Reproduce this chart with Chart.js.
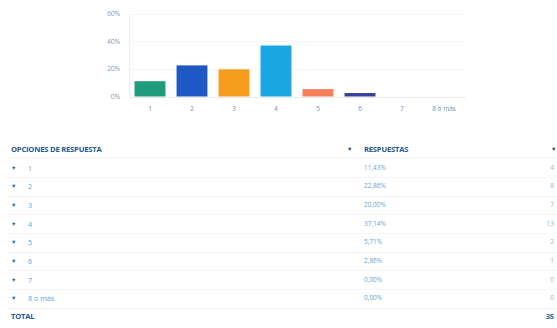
<!DOCTYPE html>
<html>
<head>
<meta charset="utf-8">
<script src="https://cdn.jsdelivr.net/npm/chart.js@4/dist/chart.umd.min.js"></script>
<style>
  html, body { margin: 0; padding: 0; background: #fff; }
  body { width: 557px; height: 328px; position: relative; overflow: hidden; font-family: "Open Sans", sans-serif; }
  #chartBox { position: absolute; left: 0; top: 0; width: 557px; height: 124px; }
  .t { position: absolute; font-size: 6.5px; line-height: 10px; white-space: nowrap; }
  .hdr { font-weight: 700; color: #225a8c; font-size: 7.6px; letter-spacing: -0.2px; }
  .lbl { color: #5aa6d6; font-size: 7.2px; }
  .pct { color: #6b9fcf; }
  .cnt { color: #8fb3d0; text-align: right; width: 30px; }
  .arrow { color: #2a4766; font-size: 5.5px; }
  .bul { color: #2f5f8c; font-size: 5.5px; }
  .sep { position: absolute; left: 6px; width: 551px; height: 1px; background: #f3f5f8; }
</style>
</head>
<body>
<div id="chartBox"><canvas id="c"></canvas></div>
<div id="table"></div>
<script>
// answer options and their shares / counts
const categories = ['1', '2', '3', '4', '5', '6', '7', '8 o más'];
const percentages = [11.43, 22.86, 20.00, 37.14, 5.71, 2.86, 0.00, 0.00];
const counts = [4, 8, 7, 13, 2, 1, 0, 0];
const total = 35;
const yTicks = [0, 20, 40, 60];
const barColors = ['#1f9c7b', '#1e58c4', '#f59c1c', '#1ba7e2', '#f7805c', '#3b3f99', '#9aa0a6', '#9aa0a6'];

new Chart(document.getElementById('c'), {
  type: 'bar',
  data: {
    labels: categories,
    datasets: [{
      data: percentages,
      backgroundColor: barColors,
      borderWidth: 0,
      categoryPercentage: 0.8,
      barPercentage: 0.92
    }]
  },
  options: {
    responsive: true,
    maintainAspectRatio: false,
    animation: false,
    layout: { padding: { left: 0, right: 92, top: 14, bottom: 0 } },
    plugins: { legend: { display: false }, tooltip: { enabled: false } },
    scales: {
      x: {
        grid: { display: false, drawTicks: false },
        border: { display: true, color: '#e8ebee', width: 1 },
        ticks: { color: '#6e8eae', font: { family: 'Open Sans', size: 6.5 }, padding: 8, maxRotation: 0 },
        afterFit: (s) => { s.height = 27; }
      },
      y: {
        min: 0, max: 60,
        afterBuildTicks: (s) => { s.ticks = yTicks.map(v => ({ value: v })); },
        grid: { color: '#f4f6f8', drawTicks: false },
        border: { display: true, color: '#eceff2', width: 1 },
        ticks: {
          color: '#7f96ad',
          font: { family: 'Open Sans', size: 6.5 },
          padding: 9,
          callback: (v) => v + '%'
        },
        afterFit: (s) => { s.width = 129; }
      }
    }
  }
});

// response table under the chart
const table = document.getElementById('table');
function add(cls, text, x, y, extra) {
  const d = document.createElement('div');
  d.className = 't ' + cls;
  d.textContent = text;
  d.style.left = x + 'px';
  d.style.top = (y - 5) + 'px';
  if (extra) Object.assign(d.style, extra);
  table.appendChild(d);
  return d;
}
function sep(y) {
  const s = document.createElement('div');
  s.className = 'sep';
  s.style.top = y + 'px';
  table.appendChild(s);
}
const headY = 149;
add('hdr', 'OPCIONES DE RESPUESTA', 11, headY);
add('arrow', '▼', 347, headY);
add('hdr', 'RESPUESTAS', 364, headY);
add('arrow', '▼', 551, headY);
sep(157);
const rowStep = 18.7;
categories.forEach((c, i) => {
  const y = 167.5 + i * rowStep;
  add('bul', '▼', 11, y);
  add('lbl', c, 28, y);
  add('pct', percentages[i].toFixed(2).replace('.', ',') + '%', 364, y);
  add('cnt', String(counts[i]), 524, y);
  sep(Math.round(y + rowStep / 2));
});
const totY = 167.5 + categories.length * rowStep - 1;
add('hdr', 'TOTAL', 11, totY);
add('hdr cnt', String(total), 524, totY, { color: '#3a6a94' });
</script>
</body>
</html>
